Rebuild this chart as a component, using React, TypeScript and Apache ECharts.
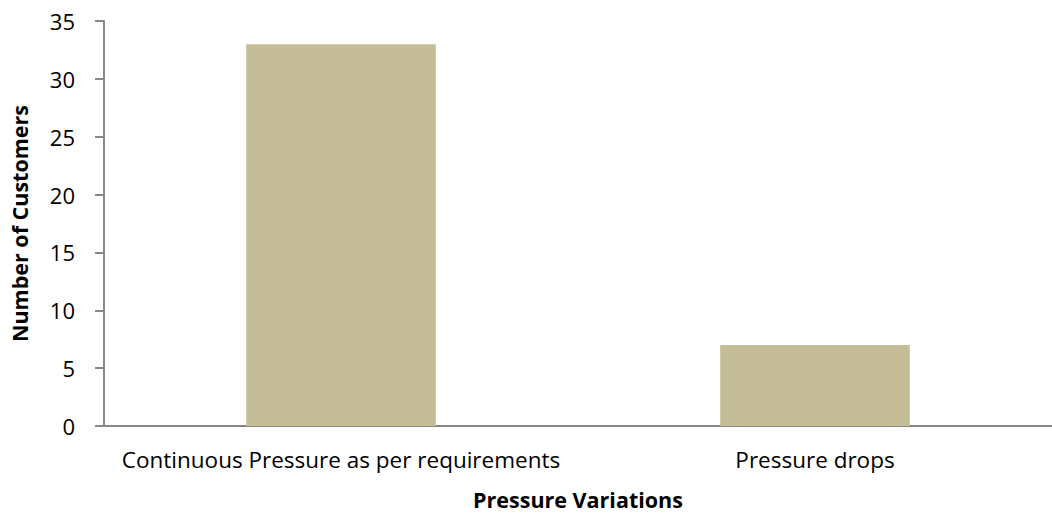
import React, { useEffect, useRef } from "react";
import * as echarts from "echarts";

const categories = ["Continuous Pressure as per requirements", "Pressure drops"];
const customerCounts = [33, 7];
const yTicks = { min: 0, max: 35, interval: 5 };

const FONT = "'Open Sans', 'Liberation Sans', sans-serif";

export default function App() {
  const ref = useRef<HTMLDivElement>(null);

  useEffect(() => {
    if (!ref.current) return;
    const chart = echarts.init(ref.current, undefined, { renderer: "svg" });
    chart.setOption({
      animation: false,
      backgroundColor: "#ffffff",
      grid: { left: 96, right: 0, top: 21, bottom: 89, containLabel: false },
      xAxis: {
        type: "category",
        data: categories,
        name: "Pressure Variations",
        nameLocation: "middle",
        nameGap: 62,
        nameTextStyle: { fontFamily: FONT, fontSize: 21.5, fontWeight: "bold", color: "#000" },
        axisLine: { show: true, lineStyle: { color: "#878787", width: 2 } },
        axisTick: { show: false },
        axisLabel: { fontFamily: FONT, fontSize: 22.5, color: "#000", margin: 22, interval: 0 },
      },
      yAxis: {
        type: "value",
        min: yTicks.min,
        max: yTicks.max,
        interval: yTicks.interval,
        name: "Number of Customers",
        nameLocation: "middle",
        nameGap: 74,
        nameTextStyle: { fontFamily: FONT, fontSize: 21.5, fontWeight: "bold", color: "#000" },
        axisLine: { show: true, lineStyle: { color: "#878787", width: 2 } },
        axisTick: { show: true, inside: false, length: 9, lineStyle: { color: "#878787", width: 2 } },
        axisLabel: { fontFamily: FONT, fontSize: 22, color: "#000", margin: 29 },
        splitLine: { show: false },
      },
      series: [
        {
          type: "bar",
          data: customerCounts,
          barWidth: "40%",
          itemStyle: { color: "#C4BD97" },
        },
      ],
    });
    return () => chart.dispose();
  }, []);

  return <div ref={ref} style={{ width: 1052, height: 515, position: "absolute", left: 0, top: 0 }} />;
}
